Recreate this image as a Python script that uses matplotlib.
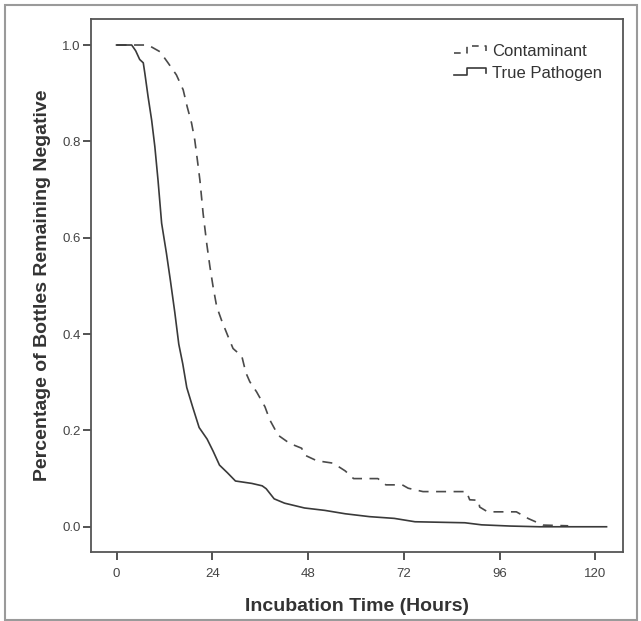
import matplotlib
matplotlib.use("Agg")
import matplotlib.pyplot as plt
from matplotlib.lines import Line2D
from matplotlib.legend_handler import HandlerBase
from matplotlib.patches import Rectangle

plt.rcParams['font.family'] = ['Liberation Sans', 'DejaVu Sans']

# Kaplan-Meier style curves (hours, proportion remaining negative)
pathogen_hours = [0, 3.8, 4.8, 5.8, 6.7, 7.1, 7.9, 8.8, 9.6, 10.4, 11.3, 12.5, 13.5,
                  14.6, 15.6, 16.6, 17.6, 19.1, 20.7, 22.7, 24.2, 25.8, 27.8, 29.8,
                  33.9, 36.5, 37.5, 39.5, 42.1, 47.1, 52.2, 57.3, 63.4, 69.6, 74.8,
                  87.3, 91.5, 98.6, 106.0, 122.8]
pathogen_prop = [1.0, 1.0, 0.988, 0.970, 0.963, 0.941, 0.893, 0.844, 0.789, 0.719, 0.630,
                 0.568, 0.511, 0.445, 0.379, 0.338, 0.289, 0.248, 0.206, 0.182, 0.157,
                 0.128, 0.112, 0.095, 0.090, 0.085, 0.079, 0.058, 0.049, 0.039, 0.034,
                 0.027, 0.021, 0.0174, 0.0104, 0.0083, 0.004, 0.0015, 0.0, 0.0]

contam_hours = [0, 7.9, 10.9, 12.9, 15.0, 16.7, 17.7, 18.8, 19.6, 20.2, 20.9, 21.7, 22.6,
                23.4, 24.2, 25.1, 26.3, 28.0, 29.2, 31.4, 32.4, 33.4, 35.1, 37.2, 38.4,
                40.5, 43.4, 46.4, 47.1, 50.2, 54.3, 57.3, 59.4, 65.5, 67.5, 71.6, 73.1,
                76.8, 87.7, 88.5, 90.7, 91.0, 93.0, 100.2, 103.2, 106.9, 113.2]
contam_prop = [1.0, 1.0, 0.986, 0.963, 0.938, 0.907, 0.872, 0.838, 0.803, 0.765, 0.719,
               0.650, 0.588, 0.540, 0.498, 0.457, 0.429, 0.394, 0.370, 0.354, 0.320,
               0.301, 0.280, 0.249, 0.222, 0.190, 0.173, 0.163, 0.149, 0.137, 0.132,
               0.116, 0.100, 0.100, 0.087, 0.087, 0.080, 0.073, 0.073, 0.056, 0.055,
               0.041, 0.031, 0.031, 0.017, 0.0035, 0.002]

series_labels = ["Contaminant", "True Pathogen"]
x_ticks = [0, 24, 48, 72, 96, 120]
y_ticks = [0.0, 0.2, 0.4, 0.6, 0.8, 1.0]

W, H = 641, 621
fig = plt.figure(figsize=(W / 100, H / 100), dpi=100)
ax = fig.add_axes([91 / W, 1 - 552.3 / H, (623.3 - 91) / W, (552.3 - 19) / H])

line_col = '#3a3a3a'
dash_col = '#4a4a4a'
lw = 1.2
ax.plot(contam_hours, contam_prop, color=dash_col, lw=lw, dashes=(6, 4.5))
ax.plot(pathogen_hours, pathogen_prop, color=line_col, lw=lw)

ax.set_xlim(-6.4, 127.0)
ax.set_ylim(-0.053, 1.054)
ax.set_xticks(x_ticks)
ax.set_xticklabels([str(t) for t in x_ticks])
ax.set_yticks(y_ticks)
ax.set_yticklabels([f"{t:.1f}" for t in y_ticks])

for s in ax.spines.values():
    s.set_color('#555555')
    s.set_linewidth(1.3)
ax.tick_params(axis='both', direction='out', length=6, width=1.3, color='#444444',
               labelsize=9.5, labelcolor='#444444')
ax.tick_params(axis='x', pad=5)
ax.tick_params(axis='y', pad=1.5)

ax.set_xlabel("Incubation Time (Hours)", fontsize=14, fontweight='bold', color='#333333',
              labelpad=13)
ax.set_ylabel("Percentage of Bottles Remaining Negative", fontsize=14, fontweight='bold',
              color='#333333', labelpad=8)


class StepHandler(HandlerBase):
    def create_artists(self, legend, orig_handle, xdescent, ydescent, width, height,
                       fontsize, trans):
        x0 = -xdescent
        y0 = -ydescent
        xs = [x0, x0 + 0.4 * width, x0 + 0.4 * width, x0 + 0.95 * width, x0 + 0.95 * width]
        ys = [y0 + 0.25 * height, y0 + 0.25 * height, y0 + 0.85 * height,
              y0 + 0.85 * height, y0 + 0.4 * height]
        ln = Line2D(xs, ys, color=orig_handle.get_color(), lw=orig_handle.get_linewidth(),
                    linestyle=orig_handle.get_linestyle())
        if orig_handle.get_linestyle() in ('--', 'dashed'):
            ln.set_dashes((4, 3.5))
        ln.set_transform(trans)
        return [ln]


h1 = Line2D([], [], color=dash_col, lw=lw, linestyle='--')
h2 = Line2D([], [], color=line_col, lw=lw, linestyle='-')
leg = ax.legend([h1, h2], series_labels, handler_map={Line2D: StepHandler()},
                loc='upper right', bbox_to_anchor=(614 / W, 1 - 32 / H),
                bbox_transform=fig.transFigure, frameon=False, fontsize=12,
                handlelength=2.0, handletextpad=0.3, labelspacing=0.45,
                borderpad=0.2)
for t in leg.get_texts():
    t.set_color('#333333')

fig.patches.append(Rectangle((5 / W, 1 - 620 / H), (637 - 5) / W, (620 - 5) / H,
                             transform=fig.transFigure, fill=False,
                             edgecolor='#9a9a9a', lw=1.5))

fig.savefig("out.png", dpi=100)
